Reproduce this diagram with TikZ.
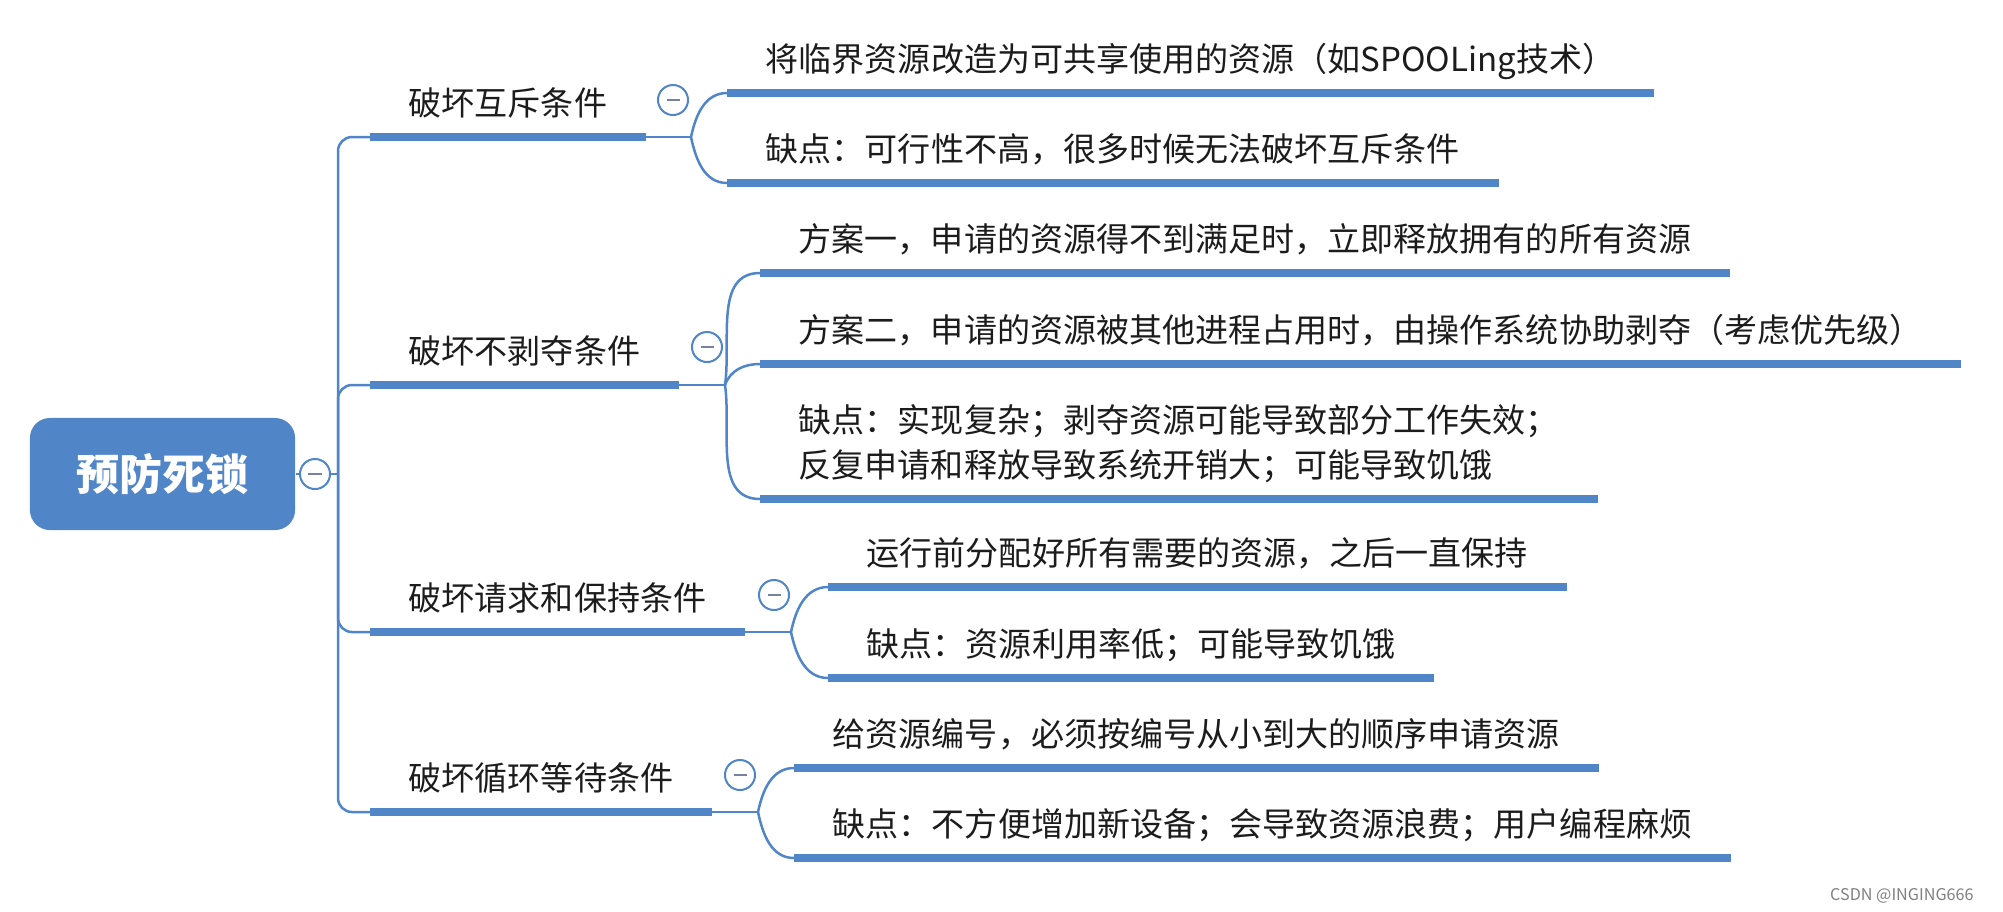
\documentclass[tikz,border=0pt]{standalone}
\usepackage{fontspec}
\setmainfont{Noto Sans CJK SC}
\usepackage{tikz}
\usetikzlibrary{positioning, calc}
\definecolor{mapblue}{RGB}{80,133,199}
\definecolor{minusgray}{RGB}{120,130,160}
\definecolor{inkgray}{RGB}{28,28,28}
\tikzset{
	conn/.style={draw=mapblue, line width=0.025cm},
	bar/.style={draw=mapblue, line width=0.088cm},
	rootbox/.style={fill=mapblue, rounded corners=0.2cm, minimum width=2.65cm, minimum height=1.12cm, inner sep=0pt, text=white, font=\fontsize{12.2pt}{14pt}\selectfont\bfseries},
	topic/.style={anchor=south west, inner xsep=0.38cm, inner ysep=0.39em, text height=0.85em, text depth=0.2em, text=inkgray, font=\fontsize{9.4pt}{12.8pt}\selectfont},
	leaf/.style={topic, align=left},
	fold/.style={circle, draw=mapblue, line width=0.02cm, fill=white, minimum size=0.3cm, inner sep=0pt},
}
\newcommand{\foldmark}{\textcolor{minusgray}{\rule{0.13cm}{0.025cm}}}
\begin{document}
\begin{tikzpicture}[x=0.01cm, y=-0.01cm]
					\useasboundingbox (0,0) rectangle (2003,911);
					\node[rootbox] (root) at (162.5,474) {预防死锁};
					\node[fold] (f0) at (315,474) {\foldmark};
					\coordinate (tr) at (338,474);
					
					\node[topic] (b1) at (370,137) {破坏互斥条件};
					\node[topic] (b2) at (370,385) {破坏不剥夺条件};
					\node[topic] (b3) at (370,632) {破坏请求和保持条件};
					\node[topic] (b4) at (370,812) {破坏循环等待条件};
					
					\coordinate (s1) at (691,137);
					\coordinate (s2) at (725,385);
					\coordinate (s3) at (791,632);
					\coordinate (s4) at (758,812);
					
					\node[leaf] (c11) at (727,93) {将临界资源改造为可共享使用的资源（如SPOOLing技术）};
					\node[leaf] (c12) at (727,183) {缺点：可行性不高，很多时候无法破坏互斥条件};
					\node[leaf] (c21) at (760,273) {方案一，申请的资源得不到满足时，立即释放拥有的所有资源};
					\node[leaf] (c22) at (760,364) {方案二，申请的资源被其他进程占用时，由操作系统协助剥夺（考虑优先级）};
					\node[leaf] (c23) at (760,499) {缺点：实现复杂；剥夺资源可能导致部分工作失效；\\反复申请和释放导致系统开销大；可能导致饥饿};
					\node[leaf] (c31) at (828,587) {运行前分配好所有需要的资源，之后一直保持};
					\node[leaf] (c32) at (828,678) {缺点：资源利用率低；可能导致饥饿};
					\node[leaf] (c41) at (794,768) {给资源编号，必须按编号从小到大的顺序申请资源};
					\node[leaf] (c42) at (794,858) {缺点：不方便增加新设备；会导致资源浪费；用户编程麻烦};
					
					\draw[conn] (root.east) -- (f0.west) (f0.east) -- (tr);
					\foreach \b in {b1,b2,b3,b4}
						\draw[conn, rounded corners=0.14cm] (tr) |- (\b.south west);
					\draw[conn]
					(b1.south east) -- (s1)
					(s1) edge[out=78, in=180] (c11.south west)
					(s1) edge[out=-78, in=180] (c12.south west)
					(b2.south east) -- (s2)
					(s2) edge[out=82, in=180] (c21.south west)
					(s2) edge[out=70, in=180] (c22.south west)
					(s2) edge[out=-82, in=180] (c23.south west)
					(b3.south east) -- (s3)
					(s3) edge[out=78, in=180] (c31.south west)
					(s3) edge[out=-78, in=180] (c32.south west)
					(b4.south east) -- (s4)
					(s4) edge[out=78, in=180] (c41.south west)
					(s4) edge[out=-78, in=180] (c42.south west);
					
					\foreach \n in {b1,b2,b3,b4,c11,c12,c21,c22,c23,c31,c32,c41,c42}
						\draw[bar] (\n.south west) -- (\n.south east);
					
					\node[fold] (f1) at (673,100) {\foldmark};
					\node[fold] (f2) at (707,347) {\foldmark};
					\node[fold] (f3) at (774,595) {\foldmark};
					\node[fold] (f4) at (740,775) {\foldmark};
					
					\node[anchor=east, text=gray, font=\fontsize{4.6pt}{5pt}\selectfont] (mark) at (1986,896) {CSDN @INGING666};
				\end{tikzpicture}
\end{document}
